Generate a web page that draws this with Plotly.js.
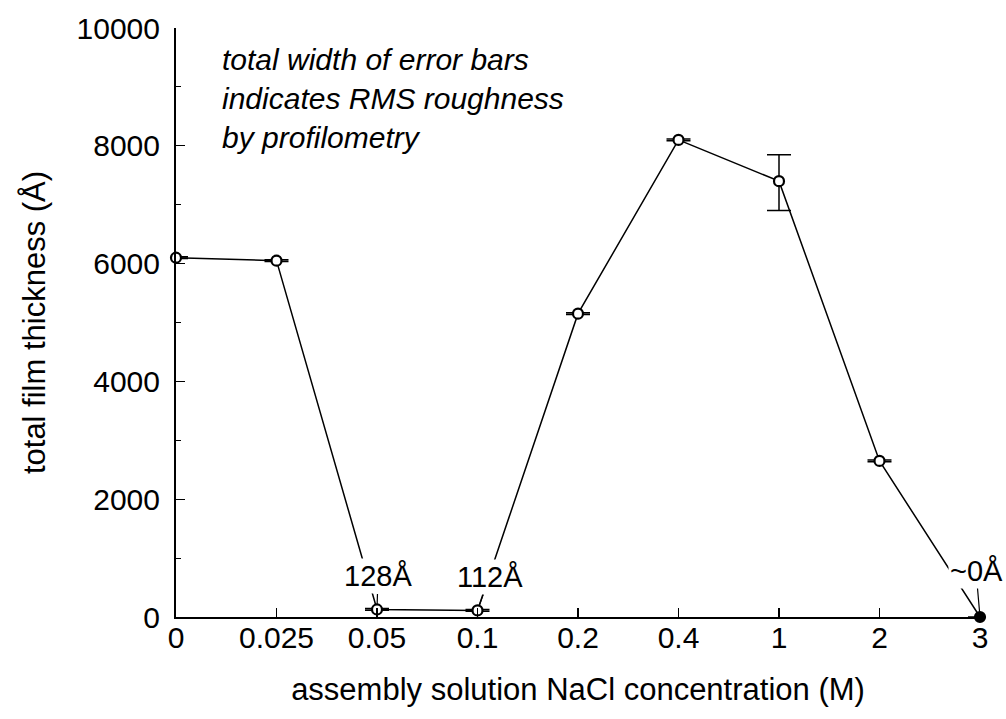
<!DOCTYPE html>
<html><head><meta charset="utf-8">
<script src="https://cdn.plot.ly/plotly-3.0.1.min.js"></script>
<style>html,body{margin:0;padding:0;background:#fff}#chart{width:1006px;height:719px}</style>
</head><body><div id="chart"></div>
<script>
const categories = ['0','0.025','0.05','0.1','0.2','0.4','1','2','3'];
const thickness = [6100, 6050, 128, 112, 5150, 8100, 7400, 2650, 0];
const errPlus  = [15, 15, 15, 15, 15, 15, 450, 15, 0];
const errMinus = [15, 15, 15, 15, 15, 15, 500, 15, 0];
const markerFill = ['white','white','white','white','white','white','white','white','black'];
const labelPoints = [
  {cat: '0.05', text: '128Å', ax: 1, ay: -33},
  {cat: '0.1', text: '112Å', ax: 12, ay: -33},
  {cat: '3', text: '~0Å', ax: -4, ay: -46}
];
const note = '<i>total width of error bars<br>indicates RMS roughness<br>by profilometry</i>';
const yTicks = [0, 2000, 4000, 6000, 8000, 10000];
const yTickText = ['0', '2000', '4000', '6000', '8000', '10000'];

const font = 'Liberation Sans, Arial, Helvetica, sans-serif';

const trace = {
  x: categories, y: thickness, type: 'scatter', mode: 'lines+markers',
  line: {color: 'black', width: 1.5},
  marker: {symbol: 'circle', size: 10, color: markerFill, line: {color: 'black', width: 2.2}},
  error_y: {type: 'data', symmetric: false, array: errPlus, arrayminus: errMinus,
            color: 'black', thickness: 1.5, width: 12},
  cliponaxis: false
};

const annotations = labelPoints.map(p => ({
  x: categories.indexOf(p.cat), y: thickness[categories.indexOf(p.cat)], xref: 'x', yref: 'y',
  text: p.text, showarrow: true, arrowhead: 0, arrowwidth: 1.2, arrowcolor: 'black',
  ax: p.ax, ay: p.ay, standoff: 5, bgcolor: 'white', borderpad: 1,
  font: {family: font, size: 29, color: 'black'}
}));
annotations.push({
  xref: 'paper', yref: 'paper', x: 0.055, y: 0.978, xanchor: 'left', yanchor: 'top',
  text: note, showarrow: false, align: 'left',
  font: {family: font, size: 30, color: 'black'}
});

const layout = {
  width: 1006, height: 719,
  margin: {l: 176, r: 26, t: 28, b: 102},
  paper_bgcolor: 'white', plot_bgcolor: 'white',
  showlegend: false,
  font: {family: font, color: 'black'},
  xaxis: {
    type: 'category', range: [0, 8], showgrid: false, zeroline: false,
    showline: true, linecolor: 'black', linewidth: 2,
    ticks: 'inside', ticklen: 9, tickwidth: 1.2, tickcolor: 'black',
    tickfont: {family: font, size: 30}, ticklabelstandoff: -7,
    title: {text: 'assembly solution NaCl concentration (M)', font: {family: font, size: 31}, standoff: 25}
  },
  yaxis: {
    range: [0, 10000], showgrid: false, zeroline: false,
    showline: true, linecolor: 'black', linewidth: 2,
    tickvals: yTicks, ticktext: yTickText, ticks: 'inside', ticklen: 9, tickwidth: 1.2, tickcolor: 'black',
    minor: {dtick: 1000, ticks: 'inside', ticklen: 5, tickwidth: 1, tickcolor: 'black'},
    tickfont: {family: font, size: 30}, ticklabelstandoff: 8,
    title: {text: 'total film thickness (Å)', font: {family: font, size: 31}, standoff: 22}
  },
  annotations: annotations
};

Plotly.newPlot('chart', [trace], layout, {displayModeBar: false, staticPlot: true});
</script></body></html>
